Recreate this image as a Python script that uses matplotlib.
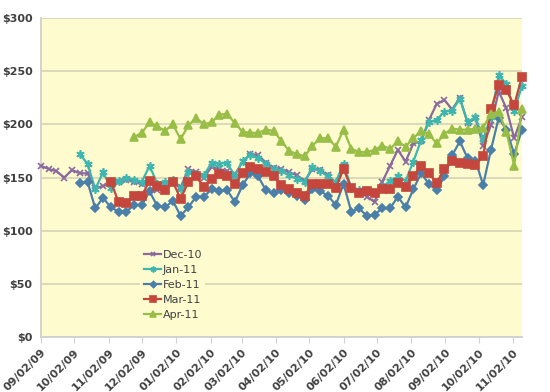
import numpy as np
import pandas as pd
import matplotlib
matplotlib.use('Agg')
import matplotlib.pyplot as plt
import matplotlib.dates as mdates
from matplotlib.ticker import FuncFormatter

nan = np.nan

# weekly price dates
dates = pd.date_range('2009-09-02', periods=63, freq='7D')

dec10 = [161, 158, 156, 150, 157, 154, 154, 140, 142, 144,
         146, 148, 146, 144, 147, 138, 143, 146, 141, 158,
         155, 150, 160, 158, 156, 153, 165, 172, 171, 164,
         159, 158, 155, 152, 147, 158, 157, 152, 144, 161,
         140, 137, 132, 127, 146, 161, 176, 165, 182, 184,
         204, 219, 223, 214, 225, 201, 206, 180, 199, 231,
         215, 187, 207]
jan11 = [nan, nan, nan, nan, nan, 172, 163, 139, 155, 140,
         147, 150, 148, 146, 161, 144, 146, 148, 139, 155,
         153, 152, 164, 163, 164, 151, 166, 171, 168, 163,
         158, 156, 152, 149, 146, 160, 156, 151, 146, 163,
         140, 138, 137, 135, 141, 147, 151, 147, 165, 185,
         202, 204, 212, 213, 224, 202, 207, 186, 207, 246,
         238, 213, 236]
feb11 = [nan, nan, nan, nan, nan, 145, 146, 121, 131, 122,
         118, 118, 124, 124, 137, 123, 122, 128, 114, 122,
         132, 132, 139, 137, 138, 127, 143, 154, 151, 138,
         135, 138, 135, 133, 129, 139, 137, 133, 124, 144,
         118, 121, 114, 115, 121, 121, 132, 122, 139, 154,
         144, 138, 151, 171, 184, 168, 166, 143, 176, 206,
         195, 172, 195]
mar11 = [nan, nan, nan, nan, nan, nan, nan, nan, nan, 146,
         127, 126, 133, 133, 147, 142, 138, 146, 130, 146,
         151, 141, 149, 153, 151, 144, 154, 160, 158, 155,
         151, 143, 139, 135, 133, 144, 144, 144, 140, 158,
         140, 135, 137, 135, 139, 139, 145, 141, 151, 161,
         154, 145, 158, 166, 164, 163, 162, 170, 214, 237,
         232, 218, 245]
apr11 = [nan, nan, nan, nan, nan, nan, nan, nan, nan, nan,
         nan, nan, 188, 192, 202, 198, 194, 200, 186, 199,
         206, 200, 202, 209, 210, 201, 193, 192, 192, 195,
         194, 184, 175, 172, 170, 180, 187, 187, 179, 195,
         177, 174, 174, 176, 180, 177, 184, 179, 187, 194,
         191, 182, 191, 196, 195, 195, 196, 197, 210, 212,
         193, 161, 214]

series = [('Dec-10', dec10, '#8A6A9E', 'x', 5),
          ('Jan-11', jan11, '#3DB6B0', (6, 2, 0), 6),
          ('Feb-11', feb11, '#4A7FAA', 'D', 4.5),
          ('Mar-11', mar11, '#C4463C', 's', 6),
          ('Apr-11', apr11, '#98BE48', '^', 6)]

fig = plt.figure(figsize=(5.5, 3.92), dpi=100)
ax = fig.add_axes([0.0745, 0.1403, 0.8745, 0.8137])
ax.set_facecolor('#FEFCCF')

for name, vals, col, mk, ms in series:
    ax.plot(dates, vals, color=col, lw=1.6, marker=mk, ms=ms,
            mec=col, mfc=col, mew=1.2, label=name, clip_on=False, zorder=3)

ax.set_ylim(0, 300)
ax.set_yticks([0, 50, 100, 150, 200, 250, 300])
ax.yaxis.set_major_formatter(FuncFormatter(lambda v, p: '$%d' % v))
ax.set_xlim(pd.Timestamp('2009-09-02'), pd.Timestamp('2010-11-10'))
ax.xaxis.set_major_locator(mdates.MonthLocator(bymonthday=2))
ax.xaxis.set_major_formatter(mdates.DateFormatter('%m/%d/%y'))

ax.grid(axis='y', color='#D8D8B8', lw=1.3, zorder=0)
ax.set_axisbelow(True)
for s in ['top', 'right']:
    ax.spines[s].set_visible(False)
for s in ['left', 'bottom']:
    ax.spines[s].set_color('#D0D0D0')
    ax.spines[s].set_linewidth(1.3)

ax.tick_params(axis='y', length=0, pad=6, labelsize=8, labelcolor='#404040')
ax.tick_params(axis='x', length=4, color='#D0D0D0', labelsize=8, labelcolor='#404040')
for lab in ax.get_yticklabels():
    lab.set_fontweight('bold')
for lab in ax.get_xticklabels():
    lab.set_rotation(45)
    lab.set_ha('right')
    lab.set_rotation_mode('anchor')
    lab.set_fontweight('bold')

leg = ax.legend(loc='upper left', bbox_to_anchor=(0.195, 0.3), frameon=True,
                fontsize=8, handlelength=1.6, handletextpad=0.1,
                labelspacing=0.45, borderpad=0.3, markerscale=0.7)
leg.get_frame().set_facecolor('#FEFCCF')
leg.get_frame().set_edgecolor('none')
leg.get_frame().set_alpha(1)
for t in leg.get_texts():
    t.set_color('#404040')

fig.savefig('out.png', dpi=100)
